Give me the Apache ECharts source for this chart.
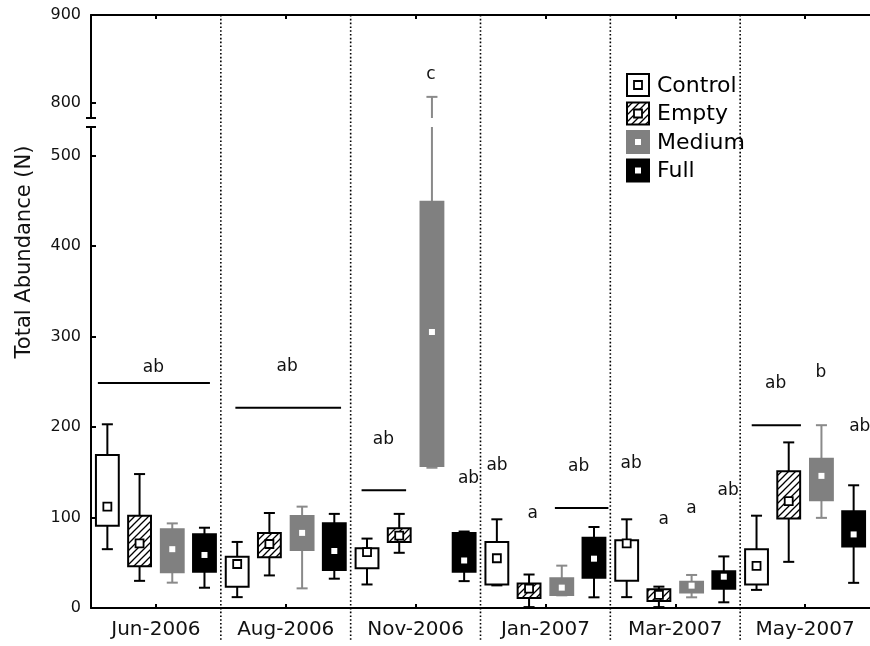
<!DOCTYPE html>
<html>
<head>
<meta charset="utf-8">
<script src="https://cdn.jsdelivr.net/npm/echarts@6/dist/echarts.min.js"></script>
<style>
  html, body { margin: 0; padding: 0; background: #fff; }
  #main { width: 870px; height: 646px; }
</style>
</head>
<body>
<div id="main"></div>
<script>
const months = ['Jun-2006', 'Aug-2006', 'Nov-2006', 'Jan-2007', 'Mar-2007', 'May-2007'];
const treatments = ['Control', 'Empty', 'Medium', 'Full'];

// [min, q1, median, q3, max] for each month
const control = [[65, 91, 112, 169, 203], [12, 23.5, 48.6, 56.7, 73], [26, 44, 61.7, 66, 76.7],
  [25, 26, 55, 73, 98], [12, 30, 71.5, 75, 98], [20, 26, 46.6, 65, 102]];
const empty = [[30, 46, 71.5, 102, 148], [36, 56, 70.7, 83, 105], [61, 73, 80, 88, 104],
  [1, 11, 21.4, 27, 37], [1, 7.7, 14.4, 20.6, 23.6], [51, 99, 118, 151, 183]];
const medium = [[28, 39.4, 65, 87, 93.5], [21.7, 64, 83, 101.7, 112], [155, 157, 305, 449, 807],
  [14, 14.4, 22.5, 32.8, 46.8], [11.8, 17, 24.7, 29, 36.5], [99.6, 119, 146, 165, 202]];
const full = [[22.4, 40, 58.6, 81.4, 88.7], [32.4, 42, 63, 93.6, 104], [29.7, 40, 52.5, 83, 84.5],
  [11.8, 33.5, 54.5, 77.7, 89.5], [6.3, 21.4, 34.6, 40.5, 57], [27.8, 68, 81.3, 107, 135.6]];

const lowTicks = [0, 100, 200, 300, 400, 500];
const highTicks = [800, 900];

// significance letters (x in month units, y in abundance)
const letterText = ['ab', 'ab', 'ab', 'c', 'ab', 'ab', 'a', 'ab', 'ab', 'a', 'a', 'ab', 'ab', 'b', 'ab'];
const letterX = [0.481, 1.511, 2.252, 2.618, 2.908, 3.127, 3.402, 3.756, 4.16, 4.412, 4.624, 4.908, 5.273, 5.621, 5.921];
const letterY = [266, 267, 185.6, 832, 143, 157, 104, 156, 160, 98, 110, 130, 247.5, 260, 200];

// horizontal grouping lines under letters
const lineX0 = [0.053, 1.112, 2.084, 3.573, 5.089];
const lineX1 = [0.916, 1.926, 2.427, 3.985, 5.468];
const lineY = [248.6, 221.3, 130, 110.5, 202];

// layout
const PLOT_LEFT = 91, PLOT_W = 786;
const TOP = 15, BREAK_TOP = 118, BREAK_BOTTOM = 127, BOTTOM = 608;
const boxOffset = [-0.374, -0.126, 0.126, 0.374];
const boxWidth = 0.176, capWidth = 0.085;
const FONT = 'DejaVu Sans';

// hatch for the "Empty" boxes
const hatch = document.createElement('canvas');
hatch.width = 7; hatch.height = 7;
(function () {
  const c = hatch.getContext('2d');
  c.fillStyle = '#fff';
  c.fillRect(0, 0, 7, 7);
  c.strokeStyle = '#000';
  c.lineWidth = 1.3;
  c.beginPath();
  c.moveTo(-1, 8); c.lineTo(8, -1);
  c.moveTo(-1, 1); c.lineTo(1, -1);
  c.moveTo(6, 8); c.lineTo(8, 6);
  c.stroke();
})();

const styles = [
  { fill: '#fff', stroke: '#000', whisker: '#000', medFill: '#fff', medStroke: '#000', medSize: 8 },
  { fill: { image: hatch, repeat: 'repeat' }, stroke: '#000', whisker: '#000', medFill: '#fff', medStroke: '#000', medSize: 8 },
  { fill: '#808080', stroke: '#808080', whisker: '#8a8a8a', medFill: '#fff', medStroke: null, medSize: 6 },
  { fill: '#000', stroke: '#000', whisker: '#000', medFill: '#fff', medStroke: null, medSize: 6 }
];

function boxRender(t) {
  const st = styles[t];
  return function (params, api) {
    const x = api.value(0) + 0.5 + boxOffset[t];
    const y = (v) => api.coord([x, v])[1];
    const cx = api.coord([x, 0])[0];
    const half = api.size([boxWidth, 0])[0] / 2;
    const cap = api.size([capWidth, 0])[0] / 2;
    const yLo = y(api.value(1)), yQ1 = y(api.value(2)), yMd = y(api.value(3));
    const yQ3 = y(api.value(4)), yHi = y(api.value(5));
    const ls = { stroke: st.whisker, lineWidth: 2 };
    const ms = st.medSize;
    return {
      type: 'group',
      children: [
        { type: 'line', shape: { x1: cx, y1: yQ3, x2: cx, y2: yHi }, style: ls },
        { type: 'line', shape: { x1: cx, y1: yQ1, x2: cx, y2: yLo }, style: ls },
        { type: 'line', shape: { x1: cx - cap, y1: yHi, x2: cx + cap, y2: yHi }, style: ls },
        { type: 'line', shape: { x1: cx - cap, y1: yLo, x2: cx + cap, y2: yLo }, style: ls },
        { type: 'rect', shape: { x: cx - half, y: yQ3, width: half * 2, height: yQ1 - yQ3 },
          style: { fill: st.fill, stroke: st.stroke, lineWidth: 2 } },
        { type: 'rect', shape: { x: cx - ms / 2, y: yMd - ms / 2, width: ms, height: ms },
          style: { fill: st.medFill, stroke: st.medStroke, lineWidth: st.medStroke ? 1.8 : 0 } }
      ]
    };
  };
}

const statSets = [control, empty, medium, full];
const series = [];

// boxes, drawn on both panels and clipped to each
[0, 1].forEach(function (gi) {
  statSets.forEach(function (stats, t) {
    series.push({
      type: 'custom',
      name: treatments[t],
      xAxisIndex: gi,
      yAxisIndex: gi,
      clip: true,
      z: 3,
      renderItem: boxRender(t),
      encode: { x: 0, y: [1, 2, 3, 4, 5] },
      data: stats.map((s, i) => [i].concat(s))
    });
  });
});

// dotted separators between months
series.push({
  type: 'custom',
  xAxisIndex: 1,
  yAxisIndex: 1,
  z: 1,
  silent: true,
  renderItem: function (params, api) {
    const x = api.coord([api.value(0), 0])[0];
    const cs = params.coordSys;
    return {
      type: 'line',
      shape: { x1: x, y1: TOP, x2: x, y2: cs.y + cs.height + 34 },
      style: { stroke: '#000', lineWidth: 1.6, lineDash: [1.6, 2.2] }
    };
  },
  data: months.slice(1).map((m, i) => [i + 1])
});

// break marks on the y axis
[0, 1].forEach(function (gi) {
  series.push({
    type: 'custom',
    xAxisIndex: gi,
    yAxisIndex: gi,
    silent: true,
    z: 4,
    renderItem: function (params) {
      const cs = params.coordSys;
      const yy = gi === 0 ? cs.y + cs.height : cs.y;
      return {
        type: 'line',
        shape: { x1: cs.x - 5, y1: yy, x2: cs.x + 5, y2: yy },
        style: { stroke: '#000', lineWidth: 2 }
      };
    },
    data: [[0]]
  });
});

// significance letters
[0, 1].forEach(function (gi) {
  const idx = letterY.map((v, i) => i).filter(i => (gi === 0) === (letterY[i] > 700));
  series.push({
    type: 'custom',
    xAxisIndex: gi,
    yAxisIndex: gi,
    silent: true,
    z: 5,
    renderItem: function (params, api) {
      const p = api.coord([api.value(0), api.value(1)]);
      return {
        type: 'text',
        x: p[0], y: p[1],
        style: {
          text: letterText[idx[params.dataIndex]],
          fontFamily: FONT, fontSize: 17, fill: '#111',
          align: 'center', verticalAlign: 'middle'
        }
      };
    },
    data: idx.map(i => [letterX[i], letterY[i]])
  });
});

// grouping lines
series.push({
  type: 'custom',
  xAxisIndex: 1,
  yAxisIndex: 1,
  silent: true,
  z: 5,
  renderItem: function (params, api) {
    const a = api.coord([api.value(0), api.value(2)]);
    const b = api.coord([api.value(1), api.value(2)]);
    return { type: 'line', shape: { x1: a[0], y1: a[1], x2: b[0], y2: b[1] },
      style: { stroke: '#000', lineWidth: 2 } };
  },
  data: lineY.map((v, i) => [lineX0[i], lineX1[i], v])
});

const centers = months.map((m, i) => i + 0.5);
const axisLine = { show: true, onZero: false, lineStyle: { color: '#000', width: 2 } };

// legend drawn by hand so the inner median square shows
const legendChildren = [];
treatments.forEach(function (name, t) {
  const st = styles[t];
  const top = 74 + 28.5 * t;
  legendChildren.push(
    { type: 'rect', shape: { x: 627, y: top, width: 22, height: 22 },
      style: { fill: st.fill, stroke: st.stroke, lineWidth: 2 } },
    { type: 'rect', shape: { x: 638 - st.medSize / 2, y: top + 11 - st.medSize / 2, width: st.medSize, height: st.medSize },
      style: { fill: st.medFill, stroke: st.medStroke, lineWidth: st.medStroke ? 1.8 : 0 } },
    { type: 'text', x: 657, y: top + 12,
      style: { text: name, fontFamily: FONT, fontSize: 22, fill: '#000', align: 'left', verticalAlign: 'middle' } }
  );
});

const chart = echarts.init(document.getElementById('main'), null, { renderer: 'canvas' });
chart.setOption({
  animation: false,
  backgroundColor: '#fff',
  grid: [
    { left: PLOT_LEFT, width: PLOT_W, top: TOP, height: BREAK_TOP - TOP },
    { left: PLOT_LEFT, width: PLOT_W, top: BREAK_BOTTOM, height: BOTTOM - BREAK_BOTTOM }
  ],
  xAxis: [
    { gridIndex: 0, type: 'value', min: 0, max: 6, position: 'top', axisLine: axisLine,
      axisTick: { show: true, inside: true, length: 4, customValues: centers, lineStyle: { color: '#000', width: 2 } },
      axisLabel: { show: false }, splitLine: { show: false } },
    { gridIndex: 1, type: 'value', min: 0, max: 6, position: 'bottom', axisLine: axisLine,
      axisTick: { show: true, inside: true, length: 4, customValues: centers, lineStyle: { color: '#000', width: 2 } },
      axisLabel: { customValues: centers, formatter: v => months[Math.floor(v)], fontFamily: FONT,
        fontSize: 20, color: '#111', margin: 12 },
      splitLine: { show: false } }
  ],
  yAxis: [
    { gridIndex: 0, type: 'value', min: 783, max: 900, axisLine: axisLine,
      axisTick: { show: true, inside: true, length: 5, customValues: highTicks, lineStyle: { color: '#000', width: 2 } },
      axisLabel: { customValues: highTicks, fontFamily: FONT, fontSize: 16, color: '#111', margin: 10 },
      splitLine: { show: false } },
    { gridIndex: 1, type: 'value', min: 0, max: 531.5, axisLine: axisLine,
      axisTick: { show: true, inside: true, length: 5, customValues: lowTicks, lineStyle: { color: '#000', width: 2 } },
      axisLabel: { customValues: lowTicks, fontFamily: FONT, fontSize: 16, color: '#111', margin: 10 },
      splitLine: { show: false } }
  ],
  graphic: [
    { type: 'text', x: 25, y: 252, rotation: Math.PI / 2,
      style: { text: 'Total Abundance (N)', fontFamily: FONT, fontSize: 21, fill: '#111',
        align: 'center', verticalAlign: 'middle' } },
    { type: 'group', children: legendChildren }
  ],
  series: series
});
</script>
</body>
</html>
